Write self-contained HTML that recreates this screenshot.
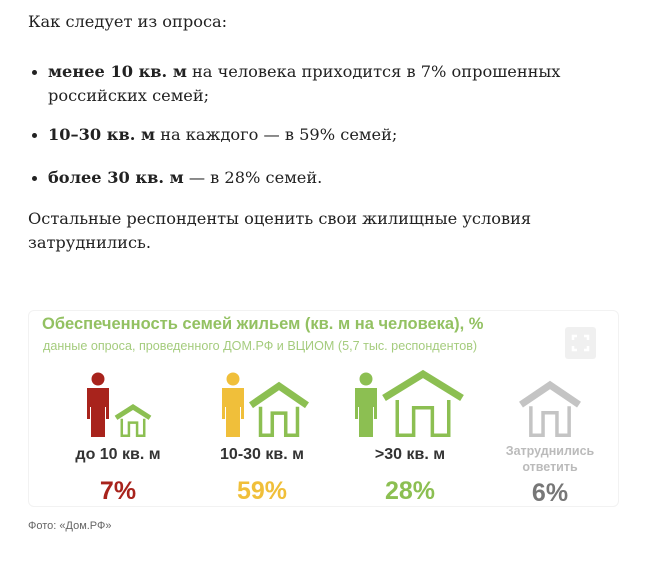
<!DOCTYPE html>
<html><head><meta charset="utf-8">
<style>
body{margin:0;width:662px;height:574px;background:#fff;overflow:hidden;position:relative;font-family:"DejaVu Serif","Liberation Serif",serif;color:#222}
.t{position:absolute;font-size:16.2px;line-height:24px;white-space:nowrap}
.dot{position:absolute;width:5px;height:5px;border-radius:50%;background:#222}
.s{font-family:"Liberation Sans","DejaVu Sans",sans-serif;position:absolute;white-space:nowrap}
</style></head><body>
<div class="t" style="left:28px;top:10px">Как следует из опроса:</div>
<div class="dot" style="left:32px;top:70px"></div>
<div class="t" style="left:48px;top:60px"><b>менее 10 кв. м</b> на человека приходится в 7% опрошенных<br>российских семей;</div>
<div class="dot" style="left:32px;top:133px"></div>
<div class="t" style="left:48px;top:123px"><b>10–30 кв. м</b> на каждого — в 59% семей;</div>
<div class="dot" style="left:32px;top:176px"></div>
<div class="t" style="left:48px;top:166px"><b>более 30 кв. м</b> — в 28% семей.</div>
<div class="t" style="left:28px;top:207px">Остальные респонденты оценить свои жилищные условия<br>затруднились.</div>

<div style="position:absolute;left:28px;top:310px;width:589px;height:195px;border:1px solid #f2f2f2;border-radius:6px;background:#fff"></div>
<div class="s" style="left:42px;top:315px;font-size:16.5px;font-weight:bold;color:#93c162">Обеспеченность семей жильем (кв. м на человека), %</div>
<div class="s" style="left:43px;top:339px;font-size:12.6px;color:#a5cc7e">данные опроса, проведенного ДОМ.РФ и ВЦИОМ (5,7 тыс. респондентов)</div>
<div style="position:absolute;left:565px;top:327px;width:31px;height:32px;background:#f0f0f0;border-radius:3px">
<svg width="31" height="32"><path d="M8 13V9h4M19 9h4v4M23 19v4h-4M12 23H8v-4" stroke="#fff" stroke-width="2.5" fill="none"/></svg></div>
<svg id="ch" width="662" height="574" style="position:absolute;left:0;top:0"></svg>
<div class="s" style="left:28px;top:520px;font-size:11px;color:#666">Фото: «Дом.РФ»</div>
<script>
const categories=["до 10 кв. м","10-30 кв. м",">30 кв. м","Затруднились ответить"];
const values=[7,59,28,6];
const colors=["#a8231c","#f0bf3a","#8cbf52","#777"];
const centers=[118,262,410,550];
const houseW=[34,56,78,58];
const houseH=[32,53,65,54];
const svg=document.getElementById('ch');
const NS='http://www.w3.org/2000/svg';
function el(t,a){const e=document.createElementNS(NS,t);for(const k in a)e.setAttribute(k,a[k]);svg.appendChild(e);return e;}
const base=437;
categories.forEach((c,i)=>{
  const cx=centers[i];
  const hw=houseW[i],hh=houseH[i];
  const hasPerson=i<3;
  let hx0=hasPerson?cx-hw/2+ (i==0?15:i==1?17:13):cx-hw/2;
  const hcol=i<3?"#8cbf52":"#c4c4c4";
  if(hasPerson){
    const col=colors[i];const px=hx0-18;
    const g=el('g',{fill:col});
    
    
    const c1=document.createElementNS(NS,'circle');c1.setAttribute('cx',px);c1.setAttribute('cy',base-58);c1.setAttribute('r',6.5);g.appendChild(c1);
    const b=document.createElementNS(NS,'path');
    b.setAttribute('d',`M${px-11} ${base-49}h22v31h-3v-12h-1v30h-7v-26h-0v26h-7v-30h-1v12h-3z`);
    g.appendChild(b);
  }
  const sw=i==0?2.5:3.5;
  const wx0=hx0+hw*0.17,wx1=hx0+hw*0.83,top=base-hh,wallTop=top+hh*0.28;
  const h=el('g',{fill:'none',stroke:hcol,'stroke-width':sw});
  
  
  const r=document.createElementNS(NS,'path');
  r.setAttribute('d',`M${hx0} ${top+hh*0.4}L${hx0+hw/2} ${top+2}L${hx0+hw} ${top+hh*0.4}`);r.setAttribute('stroke-width',sw*2);h.appendChild(r);
  const w=document.createElementNS(NS,'path');
  const dx0=hx0+hw*0.38,dx1=hx0+hw*0.62,dt=base-hh*0.45;
  w.setAttribute('d',`M${wx0} ${wallTop+hh*0.15}V${base-sw/2}H${dx0}V${dt}H${dx1}V${base-sw/2}H${wx1}V${wallTop+hh*0.15}`);h.appendChild(w);
  if(i<3){
    const l=el('text',{x:cx,y:459,'text-anchor':'middle','font-family':'Liberation Sans,sans-serif','font-size':16,'font-weight':'bold',fill:'#333'});
    l.textContent=c;
    
    
  }else{
    const p=c.split(' ');
    p.forEach((s,j)=>{const l=el('text',{x:cx,y:455+j*16,'text-anchor':'middle','font-family':'Liberation Sans,sans-serif','font-size':12.5,'font-weight':'bold',fill:'#bbb'});l.textContent=s;
      
      });
  }
  const v=el('text',{x:cx,y:i<3?499:501,'text-anchor':'middle','font-family':'Liberation Sans,sans-serif','font-size':25,'font-weight':'bold',fill:colors[i]});
  v.textContent=values[i]+'%';
  
  
});
</script>
</body></html>
